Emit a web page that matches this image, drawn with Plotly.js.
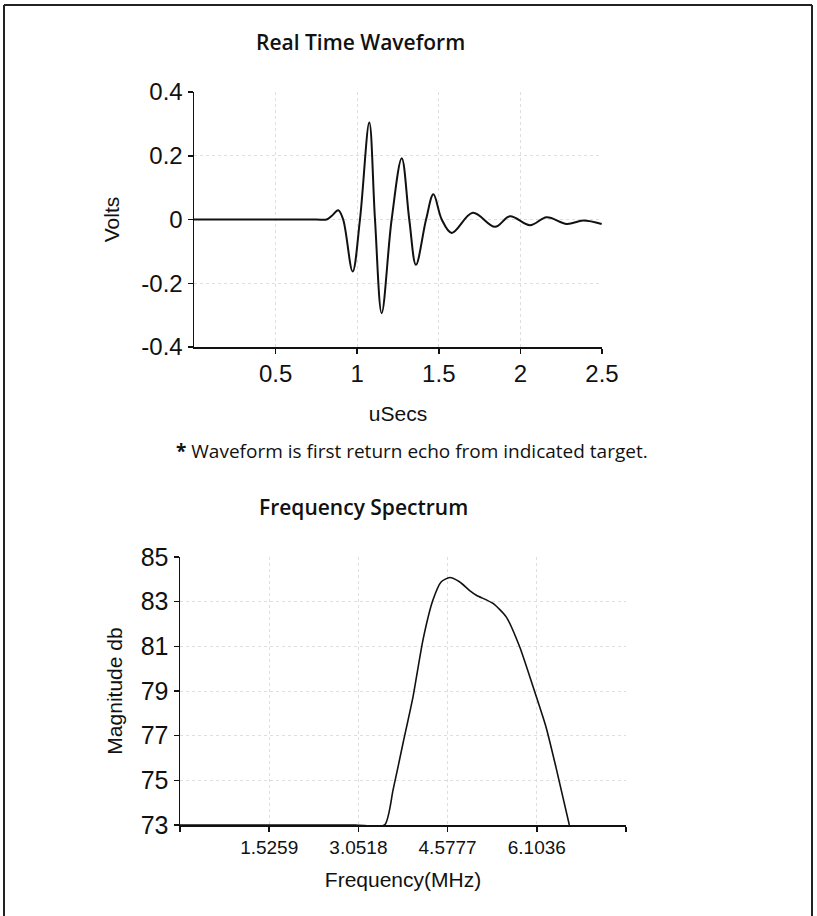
<!DOCTYPE html>
<html>
<head>
<meta charset="utf-8">
<script src="https://cdn.plot.ly/plotly-3.0.1.min.js"></script>
<style>
html,body{margin:0;padding:0;background:#fff;}
#chart{width:817px;height:916px;}
</style>
</head>
<body>
<div id="chart"></div>
<script>
// Real Time Waveform (uSecs vs Volts)
var waveTime  = [0, 0.3, 0.6, 0.75, 0.813, 0.845, 0.884, 0.914, 0.972, 1.017, 1.074, 1.109, 1.150, 1.211, 1.273, 1.319, 1.360, 1.422, 1.467, 1.518, 1.579, 1.708, 1.844, 1.936, 2.059, 2.161, 2.284, 2.385, 2.498];
var waveVolts = [0, 0, 0, 0, 0, 0.012, 0.029, 0, -0.163, 0, 0.304, 0, -0.294, 0, 0.192, 0, -0.142, 0, 0.079, 0, -0.042, 0.021, -0.023, 0.010, -0.018, 0.007, -0.014, -0.003, -0.014];

// Frequency Spectrum (MHz vs dB)
var specFreq = [0, 1.5, 3.0, 3.50, 3.645, 3.815, 3.986, 4.156, 4.327, 4.47, 4.614, 4.78, 4.95, 5.07, 5.354, 5.58, 5.81, 6.04, 6.26, 6.43, 6.66];
var specMag  = [73, 73, 73, 73, 74.57, 76.66, 78.74, 81.28, 83.07, 83.89, 84.08, 83.89, 83.51, 83.29, 82.92, 82.32, 80.98, 79.19, 77.4, 75.6, 73];

// Tick labels
var waveXTicks = [0.5, 1, 1.5, 2, 2.5];
var waveYTicks = [-0.4, -0.2, 0, 0.2, 0.4];
var waveYText  = ['-0.4', '-0.2', '0', '0.2', '0.4'];
var specXTicks = [0, 1.5259, 3.0518, 4.5777, 6.1036, 7.6295];
var specXText  = ['', '1.5259', '3.0518', '4.5777', '6.1036', ''];
var specYTicks = [73, 75, 77, 79, 81, 83, 85];

var W = 817, H = 916;
function px(x){ return x / W; }
function py(y){ return 1 - y / H; }

var ARIAL = 'Liberation Sans, Arial, sans-serif';
var tickFont = {family: ARIAL, size: 24, color: '#111'};
var titleFont = {family: ARIAL, size: 21, color: '#111'};
var headFont = {family: 'Open Sans, Lato, sans-serif', size: 21, color: '#111', weight: 600};

var axisCommon = {
  showline: true, linecolor: '#111', linewidth: 1.5,
  ticks: 'outside', ticklen: 5, tickcolor: '#111', tickwidth: 1.5,
  showgrid: true, gridcolor: '#dedede', griddash: 'dot', gridwidth: 1,
  zeroline: false, fixedrange: true
};

var traces = [
  {x: waveTime, y: waveVolts, type: 'scatter', mode: 'lines',
   line: {color: '#111', width: 2, shape: 'spline', smoothing: 1},
   xaxis: 'x', yaxis: 'y', hoverinfo: 'skip'},
  {x: specFreq, y: specMag, type: 'scatter', mode: 'lines',
   line: {color: '#111', width: 1.6, shape: 'spline', smoothing: 0.6},
   xaxis: 'x2', yaxis: 'y2', hoverinfo: 'skip'}
];

var layout = {
  width: W, height: H,
  margin: {l: 0, r: 0, t: 0, b: 0},
  paper_bgcolor: '#fff', plot_bgcolor: '#fff',
  showlegend: false,
  xaxis: Object.assign({}, axisCommon, {
    domain: [px(194), px(602)], anchor: 'y',
    range: [0, 2.5], tickvals: waveXTicks, tickfont: tickFont,
    title: {text: 'uSecs', font: titleFont, standoff: 20}
  }),
  yaxis: Object.assign({}, axisCommon, {
    domain: [py(347), py(92)], anchor: 'x',
    range: [-0.4, 0.4], tickvals: waveYTicks, ticktext: waveYText, tickfont: tickFont,
    title: {text: 'Volts', font: titleFont, standoff: 16}
  }),
  xaxis2: Object.assign({}, axisCommon, {
    domain: [px(180), px(626)], anchor: 'y2',
    range: [0, 7.6295], tickvals: specXTicks, ticktext: specXText,
    tickfont: {family: ARIAL, size: 19, color: '#111'},
    title: {text: 'Frequency(MHz)', font: titleFont, standoff: 15}
  }),
  yaxis2: Object.assign({}, axisCommon, {
    domain: [py(825), py(557)], anchor: 'x2',
    range: [73, 85], tickvals: specYTicks, tickfont: {family: ARIAL, size: 25, color: '#111'},
    title: {text: 'Magnitude db', font: titleFont, standoff: 12}
  }),
  annotations: [
    {text: 'Real Time Waveform', xref: 'paper', yref: 'paper', x: px(360), y: py(42),
     xanchor: 'center', yanchor: 'middle', showarrow: false, font: headFont},
    {text: '<b>*</b> Waveform is first return echo from indicated target.', xref: 'paper', yref: 'paper',
     x: px(412), y: py(451), xanchor: 'center', yanchor: 'middle', showarrow: false,
     font: {family: 'Open Sans, Lato, sans-serif', size: 19, color: '#111'}},
    {text: 'Frequency Spectrum', xref: 'paper', yref: 'paper', x: px(363), y: py(507),
     xanchor: 'center', yanchor: 'middle', showarrow: false, font: headFont}
  ],
  shapes: [
    {type: 'line', xref: 'paper', yref: 'paper', x0: px(4), x1: px(4), y0: 0, y1: py(5), line: {color: '#222', width: 2}},
    {type: 'line', xref: 'paper', yref: 'paper', x0: px(4), x1: px(812), y0: py(5), y1: py(5), line: {color: '#222', width: 2}},
    {type: 'line', xref: 'paper', yref: 'paper', x0: px(812), x1: px(812), y0: 0, y1: py(5), line: {color: '#222', width: 2}}
  ]
};

Plotly.newPlot('chart', traces, layout, {displayModeBar: false, staticPlot: true});
</script>
</body>
</html>
